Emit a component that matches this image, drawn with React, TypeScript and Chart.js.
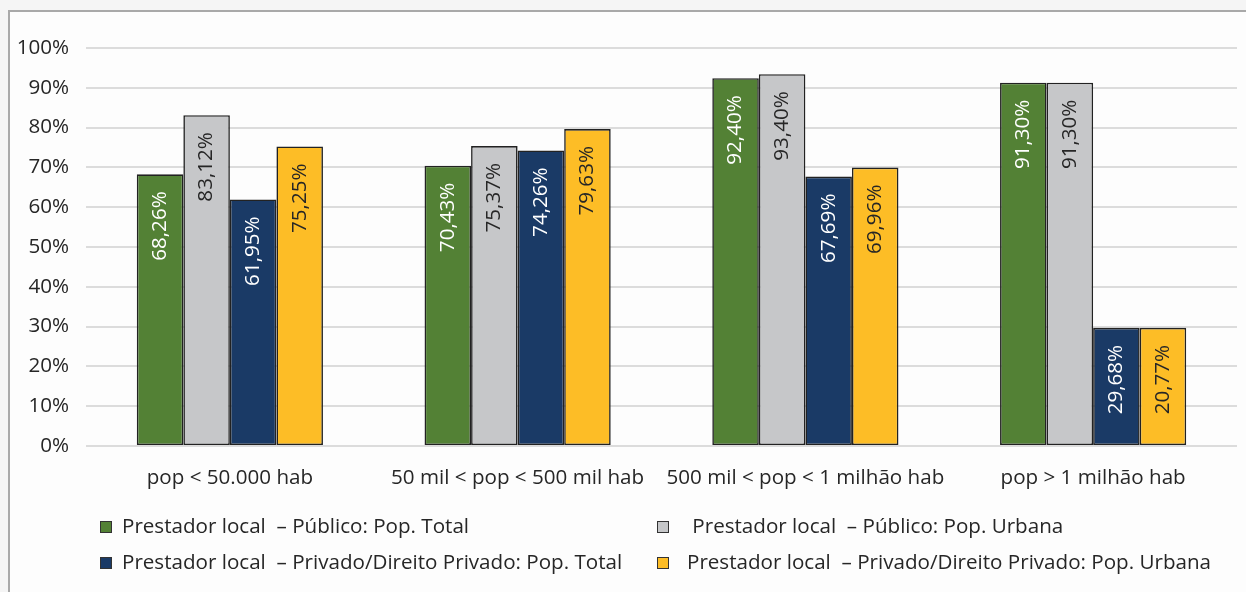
import React, { useEffect, useRef } from "react";
import { Chart, registerables } from "chart.js";

Chart.register(...registerables);

const categories = [
  "pop < 50.000 hab",
  "50 mil < pop < 500 mil hab",
  "500 mil < pop < 1 milhão hab",
  "pop > 1 milhão hab",
];

const publicoTotal = [68.26, 70.43, 92.4, 91.3];
const publicoUrbana = [83.12, 75.37, 93.4, 91.3];
const privadoTotal = [61.95, 74.26, 67.69, 29.68];
const privadoUrbana = [75.25, 79.63, 69.96, 29.68];

const publicoTotalLabels = ["68,26%", "70,43%", "92,40%", "91,30%"];
const publicoUrbanaLabels = ["83,12%", "75,37%", "93,40%", "91,30%"];
const privadoTotalLabels = ["61,95%", "74,26%", "67,69%", "29,68%"];
const privadoUrbanaLabels = ["75,25%", "79,63%", "69,96%", "20,77%"];

const yTicks = [0, 10, 20, 30, 40, 50, 60, 70, 80, 90, 100];

const seriesNames = [
  "Prestador local  – Público: Pop. Total",
  " Prestador local  – Público: Pop. Urbana",
  "Prestador local  – Privado/Direito Privado: Pop. Total",
  "Prestador local  – Privado/Direito Privado: Pop. Urbana",
];

const COLORS = ["#538135", "#c6c7c9", "#1a3a66", "#fdbd26"];
const LABEL_COLORS = ["#ffffff", "#262626", "#ffffff", "#262626"];
const FONT = "'Open Sans', 'Noto Sans', sans-serif";
const TEXT = "#262626";
const FS = 20.6;

export default function App() {
  const ref = useRef<HTMLCanvasElement | null>(null);

  useEffect(() => {
    if (!ref.current) return;
    const labelSets = [publicoTotalLabels, publicoUrbanaLabels, privadoTotalLabels, privadoUrbanaLabels];

    const bgPlugin = {
      id: "bg",
      beforeDraw(chart: any) {
        const ctx = chart.ctx;
        ctx.save();
        ctx.fillStyle = "#f5f5f5";
        ctx.fillRect(0, 0, chart.width, chart.height);
        ctx.fillStyle = "#fdfdfd";
        ctx.fillRect(8, 10, chart.width - 8, chart.height - 10);
        ctx.strokeStyle = "#a9a9a9";
        ctx.lineWidth = 2;
        ctx.beginPath();
        ctx.moveTo(9, chart.height);
        ctx.lineTo(9, 11);
        ctx.lineTo(chart.width, 11);
        ctx.stroke();
        ctx.restore();
      },
    };

    const labelPlugin = {
      id: "barLabels",
      afterDatasetsDraw(chart: any) {
        const ctx = chart.ctx;
        ctx.save();
        ctx.font = `${FS}px ${FONT}`;
        chart.data.datasets.forEach((ds: any, di: number) => {
          const meta = chart.getDatasetMeta(di);
          meta.data.forEach((bar: any, i: number) => {
            ctx.save();
            ctx.translate(bar.x, bar.y + 17);
            ctx.rotate(-Math.PI / 2);
            ctx.textAlign = "right";
            ctx.textBaseline = "middle";
            ctx.fillStyle = LABEL_COLORS[di];
            ctx.fillText(labelSets[di][i], 0, 0);
            ctx.restore();
          });
        });
        ctx.restore();
      },
    };

    const legendPlugin = {
      id: "customLegend",
      afterDraw(chart: any) {
        const ctx = chart.ctx;
        ctx.save();
        ctx.font = `${FS}px ${FONT}`;
        ctx.textBaseline = "middle";
        ctx.textAlign = "left";
        const pos = [
          { x: 100, y: 527, tx: 122 },
          { x: 657, y: 527, tx: 687 },
          { x: 100, y: 563, tx: 122 },
          { x: 657, y: 563, tx: 687 },
        ];
        pos.forEach((p, i) => {
          ctx.fillStyle = COLORS[i];
          ctx.fillRect(p.x, p.y - 6, 12, 12);
          ctx.strokeStyle = "#333333";
          ctx.lineWidth = 1;
          ctx.strokeRect(p.x + 0.5, p.y - 5.5, 11, 11);
          ctx.fillStyle = TEXT;
          ctx.fillText(seriesNames[i], p.tx, p.y);
        });
        ctx.restore();
      },
    };

    const values = [publicoTotal, publicoUrbana, privadoTotal, privadoUrbana];

    const chart = new Chart(ref.current, {
      type: "bar",
      data: {
        labels: categories,
        datasets: values.map((v, i) => ({
          label: seriesNames[i],
          data: v,
          backgroundColor: COLORS[i],
          borderColor: "#222222",
          borderWidth: 1.6,
          borderSkipped: false,
          categoryPercentage: 0.647,
          barPercentage: 1,
        })),
      },
      options: {
        responsive: false,
        animation: false,
        layout: { padding: { left: 0, right: 9, top: 48, bottom: 0 } },
        plugins: {
          legend: { display: false },
          tooltip: { enabled: false },
        },
        scales: {
          x: {
            grid: { display: false, drawTicks: false },
            border: { display: false },
            ticks: {
              color: TEXT,
              font: { family: FONT, size: FS },
              padding: 20,
              maxRotation: 0,
              autoSkip: false,
            },
            afterFit(scale: any) {
              scale.height = 146;
            },
          },
          y: {
            min: 0,
            max: 100,
            afterBuildTicks(scale: any) {
              scale.ticks = yTicks.map((v) => ({ value: v }));
            },
            grid: { color: "#dcdcdc", lineWidth: 2, drawTicks: false },
            border: { display: false },
            ticks: {
              color: TEXT,
              font: { family: FONT, size: FS },
              padding: 17,
              callback: (v: any) => `${v}%`,
            },
            afterFit(scale: any) {
              scale.width = 86;
            },
          },
        },
      },
      plugins: [bgPlugin, labelPlugin, legendPlugin],
    });
    return () => chart.destroy();
  }, []);

  return (
    <div style={{ position: "absolute", left: 0, top: 0, width: 1246, height: 592 }}>
      <canvas ref={ref} width={1246} height={592} style={{ display: "block" }} />
    </div>
  );
}
